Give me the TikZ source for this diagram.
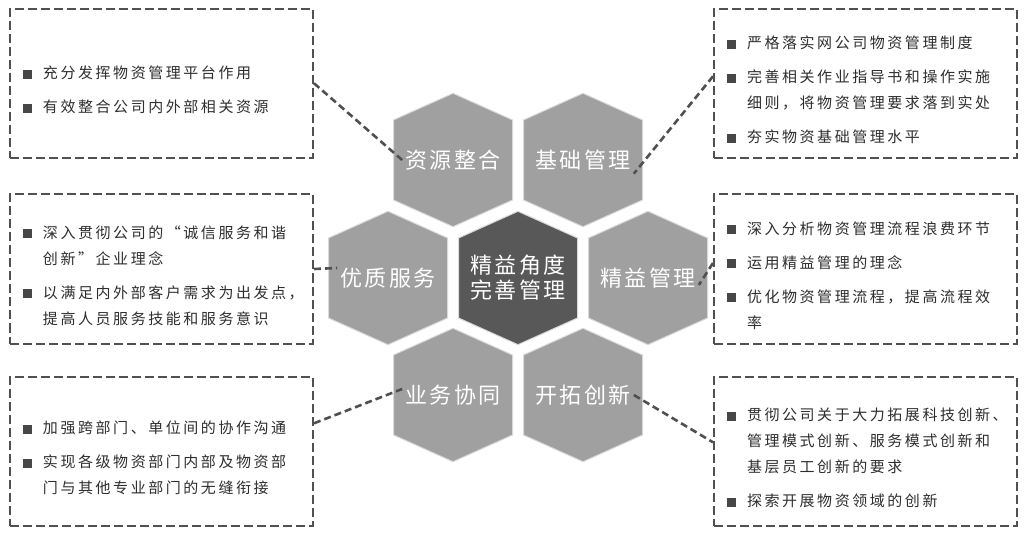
\documentclass[tikz,border=0pt]{standalone}
\usepackage{fontspec}
\usepackage{xcolor}
\newfontfamily\boxfont[LetterSpace=17]{Noto Sans CJK SC}
\newfontfamily\hexfont[LetterSpace=10]{Noto Sans CJK SC}
\newcommand\boxitem[1]{\par\noindent\makebox[20pt][l]{\color{BulletGray}\rule{9pt}{9pt}}#1\par}
\newcommand\boxmore[1]{\par\noindent\hspace*{20pt}#1\par}
\newcommand\itemgap{\vspace{8pt}}

\begin{document}
\begin{tikzpicture}[x=1pt,y=-1pt,
    hexcell/.style={draw=white!85!black, line width=1pt},
    hexlabel/.style={text=white, font=\hexfont\fontsize{22}{25}\selectfont},
    notebox/.style={draw=LineGray, line width=2pt, dash pattern=on 9pt off 4pt,
        text width=277pt, inner xsep=13pt, minimum width=303pt, minimum height=149pt,
        text=TextGray, font=\boxfont\fontsize{15}{26}\selectfont},
    link/.style={draw=LineGray, line width=2.6pt, dash pattern=on 7pt off 4pt}]
    \definecolor{HexGray}{HTML}{A0A0A0}
    \definecolor{CoreGray}{HTML}{585858}
    \definecolor{LineGray}{HTML}{505050}
    \definecolor{BulletGray}{HTML}{474747}
    \definecolor{TextGray}{HTML}{2E2E2E}
    \useasboundingbox[fill=white] (0,0) rectangle (1024,534);

    % honeycomb
    \foreach \cx/\cy/\shade in {453/160/HexGray, 583/160/HexGray,
        388/278/HexGray, 518/278/CoreGray, 648/278/HexGray,
        453/395/HexGray, 583/395/HexGray}{%
        \draw[hexcell, fill=\shade, shift={(\cx,\cy)}]
            (0,-66.7) -- (59.5,-40) -- (59.5,40) -- (0,66.7)
            -- (-59.5,40) -- (-59.5,-40) -- cycle;
    }
    \node[hexlabel] (zyzh) at (453,160) {资源整合};
    \node[hexlabel] (jcgl) at (583,160) {基础管理};
    \node[hexlabel] (yzfw) at (388,278) {优质服务};
    \node[hexlabel, align=center] (core) at (518,278) {精益角度\\完善管理};
    \node[hexlabel] (jygl) at (648,278) {精益管理};
    \node[hexlabel] (ywxt) at (453,395) {业务协同};
    \node[hexlabel] (ktcx) at (583,395) {开拓创新};

    % note boxes
    \node[notebox] (noteA) at (161.5,83.3) {%
        \boxitem{充分发挥物资管理平台作用}\itemgap
        \boxitem{有效整合公司内外部相关资源}};
    \node[notebox] (noteB) at (161.5,269) {%
        \boxitem{深入贯彻公司的“诚信服务和谐}
        \boxmore{创新”企业理念}\itemgap
        \boxitem{以满足内外部客户需求为出发点，}
        \boxmore{提高人员服务技能和服务意识}};
    \node[notebox] (noteC) at (161.5,451.3) {%
        \boxitem{加强跨部门、单位间的协作沟通}\itemgap
        \boxitem{实现各级物资部门内部及物资部}
        \boxmore{门与其他专业部门的无缝衔接}};
    \node[notebox] (noteD) at (865.5,83.3) {%
        \boxitem{严格落实网公司物资管理制度}\itemgap
        \boxitem{完善相关作业指导书和操作实施}
        \boxmore{细则，将物资管理要求落到实处}\itemgap
        \boxitem{夯实物资基础管理水平}};
    \node[notebox] (noteE) at (865.5,269) {%
        \boxitem{深入分析物资管理流程浪费环节}\itemgap
        \boxitem{运用精益管理的理念}\itemgap
        \boxitem{优化物资管理流程，提高流程效}
        \boxmore{率}};
    \node[notebox] (noteF) at (865.5,451.3) {%
        \boxitem{贯彻公司关于大力拓展科技创新、}
        \boxmore{管理模式创新、服务模式创新和}
        \boxmore{基层员工创新的要求}\itemgap
        \boxitem{探索开展物资领域的创新}};

    % links
    \draw[link] (noteA.east) -- (zyzh.west);
    \draw[link] (noteB.east) -- ([yshift=10pt]yzfw.west);
    \draw[link] ([yshift=28pt]noteC.east) -- ([yshift=6pt]ywxt.west);
    \draw[link] ([yshift=7pt]noteD.west) -- (jcgl.south east);
    \draw[link] ([yshift=6pt]noteE.west) -- ([yshift=-7pt]jygl.east);
    \draw[link] (ktcx.east) -- ([yshift=9pt]noteF.west);
\end{tikzpicture}
\end{document}
